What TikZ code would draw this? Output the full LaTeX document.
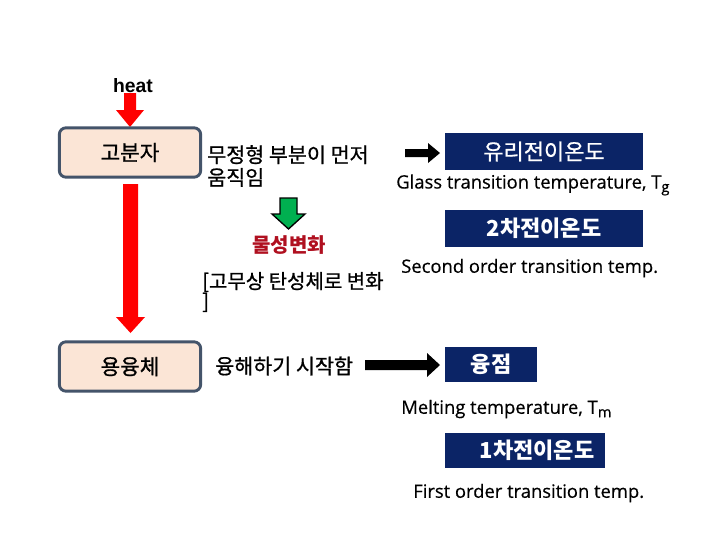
\documentclass[tikz,border=0pt]{standalone}
\usepackage{fontspec}
\setmainfont{Noto Sans CJK KR}
\newfontfamily\krmed{Noto Sans CJK KR}[FakeBold=0.8]
\newfontfamily\enfont{Open Sans}[FakeBold=0.5]
\newfontfamily\arialfont{Liberation Sans}
\newcommand{\lowsub}[1]{\raisebox{-0.35ex}{\fontsize{11}{12}\selectfont #1}}
\begin{document}
\begin{tikzpicture}[x=0.75pt,y=-0.75pt,
  peach/.style={draw=boxedge,line width=2.2pt,fill=peachfill,rounded corners=5pt,minimum width=106,minimum height=37,inner sep=0pt,font=\krmed\fontsize{16}{18}\selectfont},
  navy/.style={fill=navybox,text=white,inner sep=0pt,font=\bfseries\fontsize{16.5}{18}\selectfont},
  kr/.style={font=\krmed\fontsize{15.5}{17}\selectfont,inner sep=0pt,anchor=west},
  en/.style={font=\enfont\fontsize{13.8}{15}\selectfont,inner sep=0pt,anchor=west}]
\definecolor{boxedge}{HTML}{44546A}
\definecolor{peachfill}{HTML}{FBE5D6}
\definecolor{navybox}{HTML}{0B2466}
\definecolor{darkred}{HTML}{B01020}
\definecolor{arrowgreen}{HTML}{00B050}
\useasboundingbox (0,0) rectangle (720,540);
\fill[white] (0,0) rectangle (720,540);

% heat
\node[font=\arialfont\bfseries\fontsize{14.5}{16}\selectfont,inner sep=0pt] (heat) at (133,86) {heat};
\fill[red] (124,93) -- (136,93) -- (136,110) -- (144,110) -- (130,127) -- (116,110) -- (124,110) -- cycle;

% left boxes
\node[peach] (gob) at (130,152.5) {고분자};
\node[peach] (yong) at (130,366.5) {용융체};
\fill[red] (123,184) -- (138,184) -- (138,317) -- (145,317) -- (130.5,333) -- (116,317) -- (123,317) -- cycle;

% middle texts
\node[kr,align=left,font=\krmed\fontsize{15.5}{17}\selectfont] (amorph) at (207,166) {무정형 부분이 먼저\\움직임};
\filldraw[fill=arrowgreen,draw=black,line width=1pt] (280,198) -- (297,198) -- (297,214) -- (305,214) -- (288.5,229) -- (272,214) -- (280,214) -- cycle;
\node[font=\bfseries\fontsize{15}{17}\selectfont,text=darkred,inner sep=0pt] (prop) at (289,245) {물성변화};
\node[kr,align=left,font=\krmed\fontsize{15}{15}\selectfont] (rubber) at (202,292) {[고무상 탄성체로 변화\\]};
\node[kr] (melt) at (215,366) {융해하기 시작함};

% black arrows
\fill[black] (405,149) -- (428,149) -- (428,143) -- (440,153) -- (428,163) -- (428,157) -- (405,157) -- cycle;
\fill[black] (365,360) -- (427,360) -- (427,353) -- (440,365) -- (427,377) -- (427,370) -- (365,370) -- cycle;

% right boxes
\node[navy,minimum width=148.5,minimum height=27.75,font=\krmed\fontsize{16.5}{18}\selectfont] (glass) at (544,151.5) {유리전이온도};
\node[en] (glassen) at (396,185) {Glass transition temperature, T\lowsub{g}};
\node[navy,minimum width=148.5,minimum height=27.75] (second) at (544,228.5) {2차전이온도};
\node[en] (seconden) at (401,268) {Second order transition temp.};
\node[navy,minimum width=69,minimum height=26.25] (mp) at (491,364.5) {융점};
\node[en] (mpen) at (401,409) {Melting temperature, T\lowsub{m}};
\node[navy,minimum width=120,minimum height=26.25] (first) at (525,450.5) {};
\node[font=\bfseries\fontsize{16.5}{18}\selectfont,text=white,inner sep=0pt] (firstlbl) at (537,450.5) {1차전이온도};
\node[en] (firsten) at (413,493) {First order transition temp.};
\end{tikzpicture}
\end{document}
